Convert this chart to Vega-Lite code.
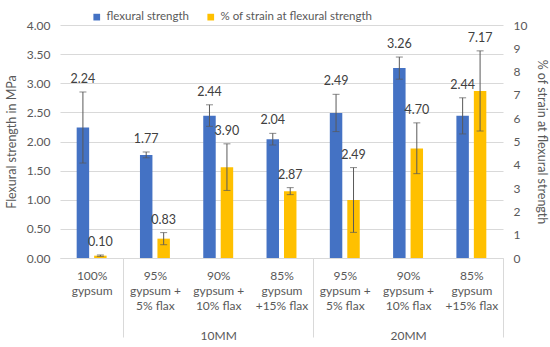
{
  "$schema": "https://vega.github.io/schema/vega-lite/v6.json",
  "width": 443,
  "height": 233,
  "padding": {"left": 5, "top": 11, "right": 5, "bottom": 5},
  "config": {
    "font": "Lato",
    "view": {"stroke": null},
    "axis": {"labelColor": "#595959", "titleColor": "#595959", "labelFontSize": 12, "titleFontSize": 12.5, "titleFontWeight": "normal", "domain": false, "ticks": false, "gridColor": "#D9D9D9"},
    "legend": {"labelColor": "#595959", "labelFontSize": 11.5}
  },
  "data": {
    "values": [
      {"cat": "1|100%|gypsum", "series": "flexural strength", "value": 2.24, "lo": 1.63, "hi": 2.85},
      {"cat": "2|95%|gypsum +|5% flax", "series": "flexural strength", "value": 1.77, "lo": 1.72, "hi": 1.82},
      {"cat": "3|90%|gypsum +|10% flax|\u2800|10MM", "series": "flexural strength", "value": 2.44, "lo": 2.26, "hi": 2.63},
      {"cat": "4|85%|gypsum|+15% flax", "series": "flexural strength", "value": 2.04, "lo": 1.94, "hi": 2.14},
      {"cat": "5|95%|gypsum +|5% flax", "series": "flexural strength", "value": 2.49, "lo": 2.17, "hi": 2.81},
      {"cat": "6|90%|gypsum +|10% flax|\u2800|20MM", "series": "flexural strength", "value": 3.26, "lo": 3.07, "hi": 3.45},
      {"cat": "7|85%|gypsum|+15% flax", "series": "flexural strength", "value": 2.44, "lo": 2.13, "hi": 2.75},
      {"cat": "1|100%|gypsum", "series": "% of strain at flexural strength", "value": 0.10, "lo": 0.07, "hi": 0.13},
      {"cat": "2|95%|gypsum +|5% flax", "series": "% of strain at flexural strength", "value": 0.83, "lo": 0.57, "hi": 1.09},
      {"cat": "3|90%|gypsum +|10% flax|\u2800|10MM", "series": "% of strain at flexural strength", "value": 3.90, "lo": 2.90, "hi": 4.90},
      {"cat": "4|85%|gypsum|+15% flax", "series": "% of strain at flexural strength", "value": 2.87, "lo": 2.72, "hi": 3.02},
      {"cat": "5|95%|gypsum +|5% flax", "series": "% of strain at flexural strength", "value": 2.49, "lo": 1.10, "hi": 3.88},
      {"cat": "6|90%|gypsum +|10% flax|\u2800|20MM", "series": "% of strain at flexural strength", "value": 4.70, "lo": 3.62, "hi": 5.80},
      {"cat": "7|85%|gypsum|+15% flax", "series": "% of strain at flexural strength", "value": 7.17, "lo": 5.45, "hi": 8.89}
    ]
  },
  "encoding": {
    "x": {
      "field": "cat", "type": "nominal", "sort": null,
      "scale": {"paddingInner": 0, "paddingOuter": 0},
      "axis": {
        "title": null,
        "labelExpr": "slice(split(datum.value, '|'), 1)",
        "labelAngle": 0,
        "labelBaseline": "top",
        "labelLineHeight": 15,
        "labelPadding": -67,
        "domain": true,
        "domainColor": "#D9D9D9",
        "ticks": true,
        "tickBand": "extent",
        "tickSize": 79,
        "tickColor": {"condition": {"test": "indexof(['1','4','7'], substring(datum.value, 0, 1)) >= 0", "value": "#D9D9D9"}, "value": "transparent"}
      }
    },
    "xOffset": {
      "field": "series", "type": "nominal",
      "scale": {"domain": ["flexural strength", "% of strain at flexural strength"], "paddingInner": 0.286, "paddingOuter": 0.955}
    }
  },
  "layer": [
    {
      "transform": [{"filter": "datum.series == 'flexural strength'"}],
      "layer": [
        {
          "mark": {"type": "bar"},
          "encoding": {
            "y": {"field": "value", "type": "quantitative", "title": "Flexural strength in MPa",
                  "scale": {"domain": [0, 4]},
                  "axis": {"values": [0, 0.5, 1, 1.5, 2, 2.5, 3, 3.5, 4], "format": ".2f", "grid": true, "labelPadding": 10, "titlePadding": 8}},
            "color": {"field": "series", "type": "nominal", "title": null,
                      "scale": {"domain": ["flexural strength", "% of strain at flexural strength"], "range": ["#4472C4", "#FFC000"]},
                      "legend": {"orient": "none", "direction": "horizontal", "legendX": 31, "legendY": -14, "symbolType": "square", "symbolSize": 45, "columnPadding": 16, "labelOffset": 4}}
          }
        },
        {
          "mark": {"type": "rule", "color": "#595959", "strokeWidth": 1},
          "encoding": {"y": {"field": "lo", "type": "quantitative", "title": "Flexural strength in MPa", "scale": {"domain": [0, 4]},
                  "axis": {"values": [0, 0.5, 1, 1.5, 2, 2.5, 3, 3.5, 4], "format": ".2f", "grid": true, "labelPadding": 10, "titlePadding": 8}}, "y2": {"field": "hi"}}
        },
        {
          "mark": {"type": "tick", "color": "#595959", "thickness": 1, "size": 7, "orient": "horizontal"},
          "encoding": {"y": {"field": "lo", "type": "quantitative", "title": "Flexural strength in MPa", "scale": {"domain": [0, 4]},
                  "axis": {"values": [0, 0.5, 1, 1.5, 2, 2.5, 3, 3.5, 4], "format": ".2f", "grid": true, "labelPadding": 10, "titlePadding": 8}}}
        },
        {
          "mark": {"type": "tick", "color": "#595959", "thickness": 1, "size": 7, "orient": "horizontal"},
          "encoding": {"y": {"field": "hi", "type": "quantitative", "title": "Flexural strength in MPa", "scale": {"domain": [0, 4]},
                  "axis": {"values": [0, 0.5, 1, 1.5, 2, 2.5, 3, 3.5, 4], "format": ".2f", "grid": true, "labelPadding": 10, "titlePadding": 8}}}
        },
        {
          "mark": {"type": "text", "dy": -13, "fontSize": 12.5, "color": "#404040"},
          "encoding": {
            "y": {"field": "hi", "type": "quantitative", "title": "Flexural strength in MPa", "scale": {"domain": [0, 4]},
                  "axis": {"values": [0, 0.5, 1, 1.5, 2, 2.5, 3, 3.5, 4], "format": ".2f", "grid": true, "labelPadding": 10, "titlePadding": 8}},
            "text": {"field": "value", "type": "quantitative", "format": ".2f"}
          }
        }
      ]
    },
    {
      "transform": [{"filter": "datum.series == '% of strain at flexural strength'"}],
      "layer": [
        {
          "mark": {"type": "bar"},
          "encoding": {
            "y": {"field": "value", "type": "quantitative", "title": "% of strain at flexural strength",
                  "scale": {"domain": [0, 10]},
                  "axis": {"orient": "right", "values": [0, 1, 2, 3, 4, 5, 6, 7, 8, 9, 10], "grid": false, "labelPadding": 10, "titlePadding": 8}},
            "color": {"field": "series", "type": "nominal"}
          }
        },
        {
          "mark": {"type": "rule", "color": "#595959", "strokeWidth": 1},
          "encoding": {"y": {"field": "lo", "type": "quantitative", "title": "% of strain at flexural strength", "scale": {"domain": [0, 10]},
                  "axis": {"orient": "right", "values": [0, 1, 2, 3, 4, 5, 6, 7, 8, 9, 10], "grid": false, "labelPadding": 10, "titlePadding": 8}}, "y2": {"field": "hi"}}
        },
        {
          "mark": {"type": "tick", "color": "#595959", "thickness": 1, "size": 7, "orient": "horizontal"},
          "encoding": {"y": {"field": "lo", "type": "quantitative", "title": "% of strain at flexural strength", "scale": {"domain": [0, 10]},
                  "axis": {"orient": "right", "values": [0, 1, 2, 3, 4, 5, 6, 7, 8, 9, 10], "grid": false, "labelPadding": 10, "titlePadding": 8}}}
        },
        {
          "mark": {"type": "tick", "color": "#595959", "thickness": 1, "size": 7, "orient": "horizontal"},
          "encoding": {"y": {"field": "hi", "type": "quantitative", "title": "% of strain at flexural strength", "scale": {"domain": [0, 10]},
                  "axis": {"orient": "right", "values": [0, 1, 2, 3, 4, 5, 6, 7, 8, 9, 10], "grid": false, "labelPadding": 10, "titlePadding": 8}}}
        },
        {
          "mark": {"type": "text", "dy": -13, "fontSize": 12.5, "color": "#404040"},
          "encoding": {
            "y": {"field": "hi", "type": "quantitative", "title": "% of strain at flexural strength", "scale": {"domain": [0, 10]},
                  "axis": {"orient": "right", "values": [0, 1, 2, 3, 4, 5, 6, 7, 8, 9, 10], "grid": false, "labelPadding": 10, "titlePadding": 8}},
            "text": {"field": "value", "type": "quantitative", "format": ".2f"}
          }
        }
      ]
    }
  ],
  "resolve": {"scale": {"y": "independent"}}
}
